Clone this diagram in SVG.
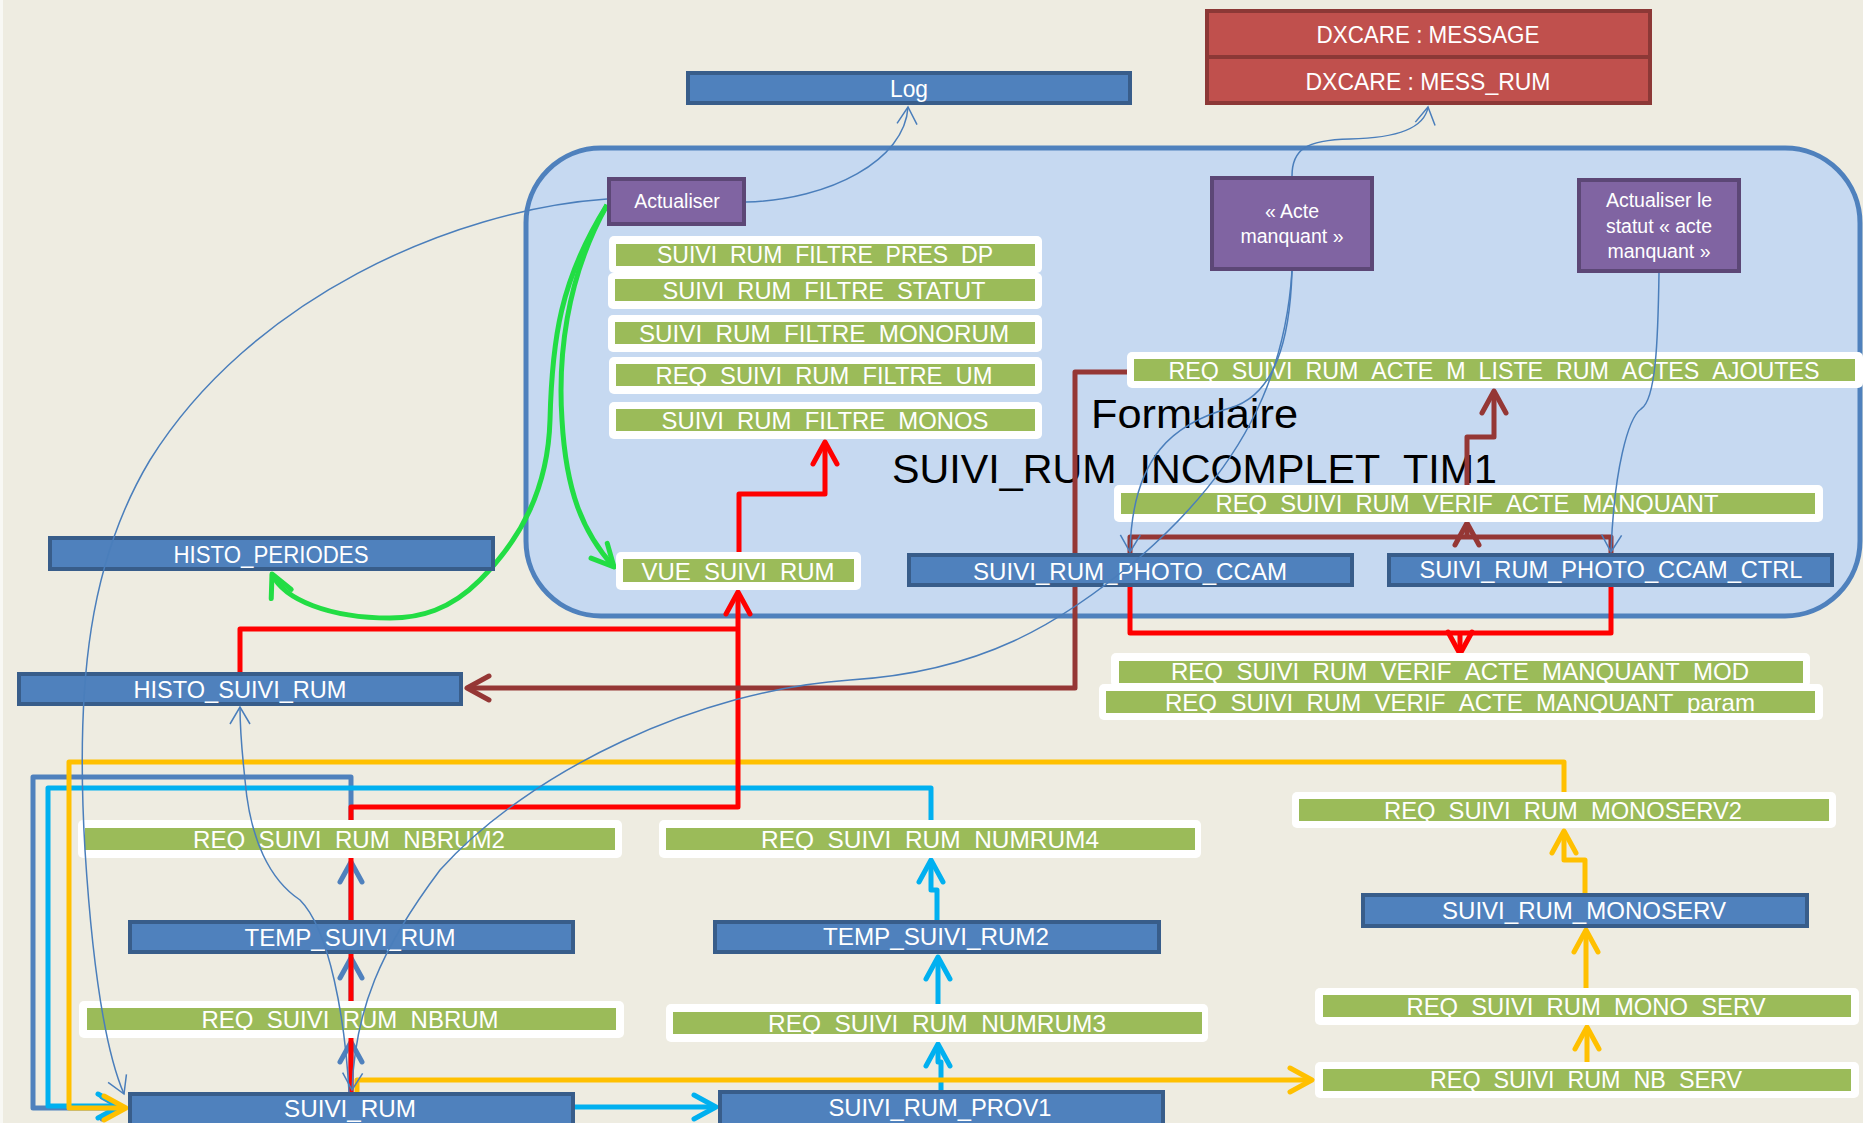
<svg xmlns="http://www.w3.org/2000/svg" width="1863" height="1123" viewBox="0 0 1863 1123">
<defs>
<style>
.bg{fill:#EEECE1}
.cont{fill:#C6D9F1;stroke:#4F81BD;stroke-width:5}
.bx{fill:#4F81BD;stroke:#385D8A;stroke-width:4}
.pu{fill:#8064A2;stroke:#5C4776;stroke-width:4}
.rd{fill:#C0504D;stroke:#8C3836;stroke-width:4}
.wf{fill:#FFFFFF}
.gr{fill:#9BBB59}
.t{font-family:"Liberation Sans",Arial,sans-serif;fill:#FFFFFF;font-size:24px;text-anchor:middle}
.tp{font-size:19.5px}
.big{font-family:"Liberation Sans",Arial,sans-serif;fill:#000000;font-size:41px}
.c{fill:none;stroke-width:5;stroke-linejoin:round}
.red{stroke:#FF0000}
.blu{stroke:#4F81BD}
.cya{stroke:#00B0F0}
.yel{stroke:#FFC000}
.brn{stroke:#953735}
.grn{stroke:#22DD44}
.th{fill:none;stroke:#4A7EBB;stroke-width:1.5}
</style>
<marker id="aR" markerUnits="userSpaceOnUse" markerWidth="50" markerHeight="50" refX="0" refY="0" orient="auto" overflow="visible"><path d="M-22,-12 L0,0 L-22,12" fill="none" stroke="#FF0000" stroke-width="5" stroke-linecap="round" stroke-linejoin="round"/></marker>
<marker id="aB" markerUnits="userSpaceOnUse" markerWidth="50" markerHeight="50" refX="0" refY="0" orient="auto" overflow="visible"><path d="M-20,-11 L0,0 L-20,11" fill="none" stroke="#4F81BD" stroke-width="5" stroke-linecap="round" stroke-linejoin="round"/></marker>
<marker id="aC" markerUnits="userSpaceOnUse" markerWidth="50" markerHeight="50" refX="0" refY="0" orient="auto" overflow="visible"><path d="M-22,-12 L0,0 L-22,12" fill="none" stroke="#00B0F0" stroke-width="5" stroke-linecap="round" stroke-linejoin="round"/></marker>
<marker id="aY" markerUnits="userSpaceOnUse" markerWidth="50" markerHeight="50" refX="0" refY="0" orient="auto" overflow="visible"><path d="M-22,-12 L0,0 L-22,12" fill="none" stroke="#FFC000" stroke-width="5" stroke-linecap="round" stroke-linejoin="round"/></marker>
<marker id="aBr" markerUnits="userSpaceOnUse" markerWidth="50" markerHeight="50" refX="0" refY="0" orient="auto" overflow="visible"><path d="M-22,-12 L0,0 L-22,12" fill="none" stroke="#953735" stroke-width="5" stroke-linecap="round" stroke-linejoin="round"/></marker>
<marker id="aG" markerUnits="userSpaceOnUse" markerWidth="50" markerHeight="50" refX="0" refY="0" orient="auto" overflow="visible"><path d="M-22,-11 L0,0 L-22,11" fill="none" stroke="#22DD44" stroke-width="5" stroke-linecap="round" stroke-linejoin="round"/></marker>
<marker id="aT" markerUnits="userSpaceOnUse" markerWidth="40" markerHeight="40" refX="0" refY="0" orient="auto" overflow="visible"><path d="M-17,-10 L0,0 L-17,10" fill="none" stroke="#4A7EBB" stroke-width="1.5"/></marker>
</defs>

<rect class="bg" x="0" y="0" width="1863" height="1123"/>
<rect x="0" y="0" width="3" height="1123" fill="#F8F8F4"/>

<g id="formulaire">
<rect class="cont" x="526" y="148" width="1334" height="468" rx="75" ry="75"/>
<text class="big" x="1091" y="428" textLength="207" lengthAdjust="spacingAndGlyphs">Formulaire</text>
<text class="big" x="892" y="483" textLength="605" lengthAdjust="spacingAndGlyphs">SUIVI_RUM_INCOMPLET_TIM1</text>
</g>

<g id="connectors-under">
<!-- dark blue chain -->
<path class="c blu" d="M351,1092 V1042" marker-end="url(#aB)"/>
<path class="c blu" d="M351,1001 V958" marker-end="url(#aB)"/>
<path class="c blu" d="M351,920 V862" marker-end="url(#aB)"/>
<path class="c blu" d="M351,820 V777 H33 V1108 H122" marker-end="url(#aB)"/>
<!-- cyan -->
<path class="c cya" d="M931,820 V788 H48 V1106 H120" marker-end="url(#aC)"/>
<path class="c cya" d="M575,1107 H716" marker-end="url(#aC)"/>
<path class="c cya" d="M941,1090 V1062 H938 V1044" marker-end="url(#aC)"/>
<path class="c cya" d="M938,1004 V957" marker-end="url(#aC)"/>
<path class="c cya" d="M937,920 V890 H931 V860" marker-end="url(#aC)"/>
<!-- yellow -->
<path class="c yel" d="M1564,792 V762 H69 V1108 H126" marker-end="url(#aY)"/>
<path class="c yel" d="M357,1092 V1080 H1312" marker-end="url(#aY)"/>
<path class="c yel" d="M1587,1062 V1027" marker-end="url(#aY)"/>
<path class="c yel" d="M1586,988 V930" marker-end="url(#aY)"/>
<path class="c yel" d="M1585,893 V860 H1564 V831" marker-end="url(#aY)"/>
<!-- red -->
<path class="c red" d="M351,1092 V807 H738 V592" marker-end="url(#aR)"/>
<path class="c red" d="M240,672 V629 H738"/>
<path class="c red" d="M739,552 V494 H825 V442" marker-end="url(#aR)"/>
<path class="c red" d="M1130,587 V633 H1611 V587"/>
<path class="c red" d="M1460,633 V654" marker-end="url(#aR)"/>
<!-- brown -->
<path class="c brn" d="M1131,372 H1075 V688 H467" marker-end="url(#aBr)"/>
<path class="c brn" d="M1130,553 V537 H1611 V553"/>
<path class="c brn" d="M1467,537 V523" marker-end="url(#aBr)"/>
<path class="c brn" d="M1467,487 V437 H1494 V391" marker-end="url(#aBr)"/>
<!-- green -->
<path class="c grn" d="M607,205 C565,280 558,360 562,420 C566,490 582,532 614,567" marker-end="url(#aG)"/>
<path class="c grn" d="M607,205 C560,280 552,340 550,420 C548,490 520,540 480,580 C450,610 420,618 390,618 C330,618 284,600 272,574" marker-end="url(#aG)"/>
</g>

<g id="log">
<rect class="bx" x="688" y="73" width="442" height="30"/>
<text class="t" x="909" y="97" textLength="38" lengthAdjust="spacingAndGlyphs">Log</text>
</g>
<g id="dxcare">
<rect class="rd" x="1207" y="11" width="443" height="46"/>
<rect class="rd" x="1207" y="57" width="443" height="46"/>
<text class="t" x="1428" y="43" textLength="223" lengthAdjust="spacingAndGlyphs">DXCARE : MESSAGE</text>
<text class="t" x="1428" y="90" textLength="245" lengthAdjust="spacingAndGlyphs">DXCARE : MESS_RUM</text>
</g>
<g id="actualiser">
<rect class="pu" x="609" y="179" width="135" height="45"/>
<text class="t tp" x="677" y="208">Actualiser</text>
</g>
<g id="acte-manquant">
<rect class="pu" x="1212" y="178" width="160" height="91"/>
<text class="t tp" x="1292" y="218">« Acte</text>
<text class="t tp" x="1292" y="243">manquant »</text>
</g>
<g id="actualiser-statut">
<rect class="pu" x="1579" y="180" width="160" height="91"/>
<text class="t tp" x="1659" y="207">Actualiser le</text>
<text class="t tp" x="1659" y="233">statut « acte</text>
<text class="t tp" x="1659" y="258">manquant »</text>
</g>

<g id="filtre-pres-dp"><rect class="wf" x="609" y="236" width="433" height="37" rx="5"/><rect class="gr" x="616" y="244" width="419" height="22"/><text class="t" x="825" y="263" textLength="336" lengthAdjust="spacingAndGlyphs">SUIVI_RUM_FILTRE_PRES_DP</text></g>
<g id="filtre-statut"><rect class="wf" x="608" y="273" width="434" height="36" rx="5"/><rect class="gr" x="615" y="279" width="420" height="22"/><text class="t" x="824" y="299" textLength="323" lengthAdjust="spacingAndGlyphs">SUIVI_RUM_FILTRE_STATUT</text></g>
<g id="filtre-monorum"><rect class="wf" x="608" y="315" width="434" height="37" rx="5"/><rect class="gr" x="615" y="322" width="420" height="22"/><text class="t" x="824" y="342" textLength="370" lengthAdjust="spacingAndGlyphs">SUIVI_RUM_FILTRE_MONORUM</text></g>
<g id="filtre-um"><rect class="wf" x="609" y="357" width="433" height="37" rx="5"/><rect class="gr" x="616" y="364" width="419" height="22"/><text class="t" x="824" y="384" textLength="337" lengthAdjust="spacingAndGlyphs">REQ_SUIVI_RUM_FILTRE_UM</text></g>
<g id="filtre-monos"><rect class="wf" x="609" y="402" width="433" height="37" rx="5"/><rect class="gr" x="616" y="409" width="419" height="22"/><text class="t" x="825" y="429" textLength="327" lengthAdjust="spacingAndGlyphs">SUIVI_RUM_FILTRE_MONOS</text></g>
<g id="vue-suivi-rum"><rect class="wf" x="616" y="552" width="245" height="38" rx="5"/><rect class="gr" x="623" y="559" width="231" height="23"/><text class="t" x="738" y="580" textLength="193" lengthAdjust="spacingAndGlyphs">VUE_SUIVI_RUM</text></g>
<g id="acte-m-liste"><rect class="wf" x="1127" y="352" width="736" height="36" rx="5"/><rect class="gr" x="1134" y="359" width="721" height="22"/><text class="t" x="1494" y="379" textLength="651" lengthAdjust="spacingAndGlyphs">REQ_SUIVI_RUM_ACTE_M_LISTE_RUM_ACTES_AJOUTES</text></g>
<g id="verif"><rect class="wf" x="1114" y="485" width="709" height="37" rx="5"/><rect class="gr" x="1121" y="493" width="694" height="21"/><text class="t" x="1467" y="512" textLength="503" lengthAdjust="spacingAndGlyphs">REQ_SUIVI_RUM_VERIF_ACTE_MANQUANT</text></g>
<g id="photo-ccam"><rect class="bx" x="909" y="555" width="443" height="30"/><text class="t" x="1130" y="580" textLength="314" lengthAdjust="spacingAndGlyphs">SUIVI_RUM_PHOTO_CCAM</text></g>
<g id="photo-ccam-ctrl"><rect class="bx" x="1389" y="555" width="443" height="30"/><text class="t" x="1611" y="578" textLength="383" lengthAdjust="spacingAndGlyphs">SUIVI_RUM_PHOTO_CCAM_CTRL</text></g>
<g id="verif-mod"><rect class="wf" x="1111" y="653" width="699" height="34" rx="5"/><rect class="gr" x="1119" y="661" width="684" height="22"/><text class="t" x="1460" y="680" textLength="578" lengthAdjust="spacingAndGlyphs">REQ_SUIVI_RUM_VERIF_ACTE_MANQUANT_MOD</text></g>
<g id="verif-param"><rect class="wf" x="1099" y="684" width="724" height="36" rx="5"/><rect class="gr" x="1106" y="691" width="709" height="22"/><text class="t" x="1460" y="711" textLength="590" lengthAdjust="spacingAndGlyphs">REQ_SUIVI_RUM_VERIF_ACTE_MANQUANT_param</text></g>

<g id="histo-periodes"><rect class="bx" x="50" y="538" width="443" height="31"/><text class="t" x="271" y="563" textLength="195" lengthAdjust="spacingAndGlyphs">HISTO_PERIODES</text></g>
<g id="histo-suivi-rum"><rect class="bx" x="19" y="674" width="442" height="30"/><text class="t" x="240" y="698" textLength="213" lengthAdjust="spacingAndGlyphs">HISTO_SUIVI_RUM</text></g>

<g id="nbrum2"><rect class="wf" x="78" y="820" width="544" height="38" rx="5"/><rect class="gr" x="85" y="828" width="530" height="22"/><text class="t" x="349" y="848" textLength="312" lengthAdjust="spacingAndGlyphs">REQ_SUIVI_RUM_NBRUM2</text></g>
<g id="temp-suivi-rum"><rect class="bx" x="130" y="922" width="443" height="30"/><text class="t" x="350" y="946" textLength="211" lengthAdjust="spacingAndGlyphs">TEMP_SUIVI_RUM</text></g>
<g id="nbrum"><rect class="wf" x="79" y="1001" width="545" height="37" rx="5"/><rect class="gr" x="87" y="1008" width="529" height="22"/><text class="t" x="350" y="1028" textLength="297" lengthAdjust="spacingAndGlyphs">REQ_SUIVI_RUM_NBRUM</text></g>
<g id="suivi-rum"><rect class="bx" x="130" y="1094" width="443" height="34"/><text class="t" x="350" y="1117" textLength="132" lengthAdjust="spacingAndGlyphs">SUIVI_RUM</text></g>

<g id="numrum4"><rect class="wf" x="659" y="820" width="542" height="38" rx="5"/><rect class="gr" x="666" y="828" width="529" height="22"/><text class="t" x="930" y="848" textLength="338" lengthAdjust="spacingAndGlyphs">REQ_SUIVI_RUM_NUMRUM4</text></g>
<g id="temp-suivi-rum2"><rect class="bx" x="715" y="922" width="444" height="30"/><text class="t" x="936" y="945" textLength="226" lengthAdjust="spacingAndGlyphs">TEMP_SUIVI_RUM2</text></g>
<g id="numrum3"><rect class="wf" x="666" y="1004" width="542" height="38" rx="5"/><rect class="gr" x="673" y="1012" width="529" height="22"/><text class="t" x="937" y="1032" textLength="338" lengthAdjust="spacingAndGlyphs">REQ_SUIVI_RUM_NUMRUM3</text></g>
<g id="suivi-rum-prov1"><rect class="bx" x="720" y="1092" width="443" height="34"/><text class="t" x="940" y="1116" textLength="223" lengthAdjust="spacingAndGlyphs">SUIVI_RUM_PROV1</text></g>

<g id="monoserv2"><rect class="wf" x="1292" y="792" width="544" height="36" rx="5"/><rect class="gr" x="1299" y="799" width="530" height="22"/><text class="t" x="1563" y="819" textLength="358" lengthAdjust="spacingAndGlyphs">REQ_SUIVI_RUM_MONOSERV2</text></g>
<g id="suivi-rum-monoserv"><rect class="bx" x="1363" y="895" width="444" height="31"/><text class="t" x="1584" y="919" textLength="284" lengthAdjust="spacingAndGlyphs">SUIVI_RUM_MONOSERV</text></g>
<g id="mono-serv"><rect class="wf" x="1315" y="988" width="544" height="37" rx="5"/><rect class="gr" x="1323" y="995" width="528" height="22"/><text class="t" x="1586" y="1015" textLength="359" lengthAdjust="spacingAndGlyphs">REQ_SUIVI_RUM_MONO_SERV</text></g>
<g id="nb-serv"><rect class="wf" x="1315" y="1062" width="544" height="36" rx="5"/><rect class="gr" x="1323" y="1069" width="528" height="22"/><text class="t" x="1586" y="1088" textLength="312" lengthAdjust="spacingAndGlyphs">REQ_SUIVI_RUM_NB_SERV</text></g>

<g id="connectors-thin">
<path class="th" d="M746,202 C830,200 905,160 908,107" marker-end="url(#aT)"/>
<path class="th" d="M1292,176 C1292,150 1305,140 1350,139 C1405,138 1425,125 1428,107" marker-end="url(#aT)"/>
<path class="th" d="M1292,271 C1290,340 1275,395 1230,408 C1175,423 1132,455 1130,552" marker-end="url(#aT)"/>
<path class="th" d="M1659,273 C1658,340 1656,400 1641,409 C1628,418 1614,470 1611,552" marker-end="url(#aT)"/>
<path class="th" d="M1292,271 C1285,380 1240,470 1140,557 C1060,625 980,672 850,680 C700,690 530,770 440,870 C380,950 355,1010 352,1090" marker-end="url(#aT)"/>
<path class="th" d="M349,1092 C345,1020 330,930 300,900 C270,880 250,840 245,780 C242,750 240,735 240,707" marker-end="url(#aT)"/>
<path class="th" d="M607,199 C450,210 250,300 150,460 C90,560 75,680 85,850 C92,960 105,1050 124,1094" marker-end="url(#aT)"/>
</g>
</svg>
